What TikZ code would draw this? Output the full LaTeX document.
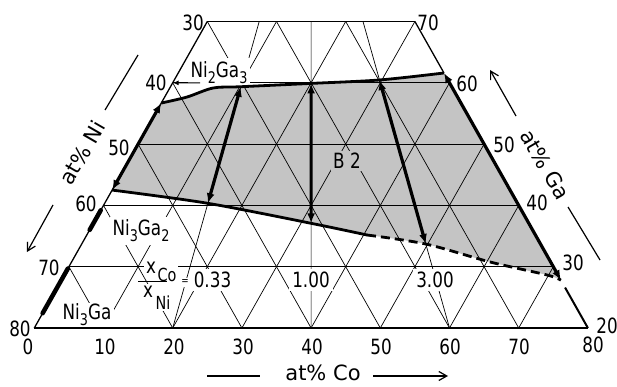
\documentclass[tikz,border=0pt]{standalone}
\usepackage{fontspec}
\setmainfont{DejaVu Sans}[FakeStretch=0.8]
\newfontfamily\axfont{DejaVu Sans}
\usetikzlibrary{arrows.meta}
\definecolor{shadegray}{gray}{0.77}
\newcommand{\sbs}[1]{\raisebox{-6pt}{\fontsize{16}{16}\selectfont #1}}
\begin{document}
\begin{tikzpicture}[x=1pt,y=-1pt,
  font=\fontsize{21}{21}\selectfont,
  gridline/.style={line width=0.7pt},
  edgeline/.style={line width=1.3pt},
  bound/.style={line width=2.8pt},
  tie/.style={line width=3.2pt,{Latex[length=10pt,width=8pt]}-{Latex[length=10pt,width=8pt]}},
  gap/.style={fill=white,inner xsep=3pt,inner ysep=3pt},
  tick/.style={inner sep=0pt},
  axis/.style={line width=1.2pt},
  axhead/.style={-{Straight Barb[length=8pt,width=9pt]}},
  phase/.style={line width=4.5pt,line cap=round},
  axtitle/.style={font=\axfont\fontsize{21}{21}\selectfont,inner sep=0pt},
]
\useasboundingbox (0,0) rectangle (617,387);
\begin{scope}[x={(6.92pt,0pt)},y={(3.46pt,6.13pt)},shift={(-34.9pt,-450.6pt)}]
  \coordinate (A) at (0,20);
  \coordinate (B) at (80,20);
  \coordinate (C) at (30,70);
  \coordinate (D) at (0,70);
  \coordinate (N40) at (0,60);
  \coordinate (l0) at (0,42.5);      \coordinate (u0) at (0,56.7);
  \coordinate (ua) at (3.23,57.68);  \coordinate (ub) at (6.25,59.15);
  \coordinate (l1) at (14.915,40.34);\coordinate (u1) at (10.16,59.36);
  \coordinate (l2) at (31.46,37.08); \coordinate (u2) at (20.05,59.9);
  \coordinate (lm) at (40.5,35.17);
  \coordinate (l3) at (49.725,33.7); \coordinate (u3) at (29.655,60.46);
  \coordinate (lc) at (60.47,30.77); \coordinate (ld) at (69.77,28.65);
  \coordinate (l4) at (72.2,27.8);   \coordinate (u4) at (38.4,61.6);
  \coordinate (r1) at (73.4,26.6);
  \coordinate (s1) at (0,36);   \coordinate (s2) at (0,39.2);
  \coordinate (s3) at (0,22.4); \coordinate (s4) at (0,29.7);
  \coordinate (q1b) at (20,20); \coordinate (q1t) at (7.5,70);
  \coordinate (q2b) at (40,20); \coordinate (q2t) at (15,70);
  \coordinate (q3b) at (60,20); \coordinate (q3t) at (22.5,70);
  % shaded B2 field
  \fill[shadegray] (l0) -- (u0)
     -- plot[smooth] coordinates {(u0) (ua) (ub) (u1) (u2) (u3) (u4)}
     -- (l4)
     -- plot[smooth] coordinates {(l4) (ld) (lc) (l3) (lm)}
     -- plot[smooth] coordinates {(lm) (l2) (l1) (l0)} -- cycle;
  % grid
  \foreach \g in {30,40,50,60} \draw[gridline] (0,\g) -- ({100-\g},\g);
  \foreach \c/\g in {10/70,20/70,30/70,40/60,50/50,60/40,70/30}
     \draw[gridline] (\c,20) -- (\c,\g);
  \foreach \a/\b/\g in {70/20/70,60/10/70,50/0/70,40/0/60,30/0/50,20/0/40,10/0/30}
     \draw[gridline] (\a,20) -- (\b,\g);
  % ratio lines
  \draw[gridline] (q1b) -- (q1t);
  \draw[gridline] (q2b) -- (q2t);
  \draw[gridline] (q3b) -- (q3t);
\end{scope}

% labels that interrupt the grid
\node[gap,inner ysep=4pt] (ni2ga3) at (219,73) {Ni\sbs{2}Ga\sbs{3}};
\node[gap] (ni3ga2) at (141,231) {Ni\sbs{3}Ga\sbs{2}};
\node[gap,inner ysep=1pt] (ni3ga) at (87,315) {Ni\sbs{3}Ga};
\node[gap,inner sep=2pt] (xn) at (151,267.5) {x};
\node[gap,inner sep=2pt,font=\fontsize{18}{18}\selectfont] (co) at (167,275) {Co};
\node[gap,inner sep=2pt] (xd) at (148,292) {x};
\node[gap,inner sep=2pt,font=\fontsize{18}{18}\selectfont] (ni) at (163,302.5) {Ni};
\node[gap,inner sep=2pt,font=\fontsize{11}{11}\selectfont] (eq) at (185,282.5) {=};
\node[gap,inner sep=3pt] (r033) at (212.5,280) {0.33};
\node[gap,inner sep=3pt] (r100) at (311,280) {1.00};
\node[gap,inner sep=3pt] (r300) at (435,280) {3.00};
\node[fill=shadegray,inner sep=2pt] (b2) at (347,161) {B~2};
\coordinate (fb1) at (138,281.5); \coordinate (fb2) at (167,281.5);
\draw[line width=1.3pt] (fb1) -- (fb2);

% outer edges
\draw[edgeline] (A) -- (B);
\draw[edgeline] (D) -- (C);
\draw[edgeline] (A) -- (D);
\draw[edgeline] (C) -- (u4);
\draw[line width=2pt] (r1) -- (B);

% B2 boundaries
\draw[bound] plot[smooth] coordinates {(u0) (ua) (ub) (u1) (u2) (u3) (u4)};
\draw[bound] plot[smooth] coordinates {(l0) (l1) (l2) (lm)};
\draw[bound,dash pattern=on 9pt off 5pt] plot[smooth] coordinates {(lm) (l3) (lc) (ld) (l4)};

% tie lines
\draw[tie] (l0) -- (u0);
\draw[tie] (l1) -- (u1);
\draw[tie] (l2) -- (u2);
\draw[tie] (l3) -- (u3);
\draw[tie] (l4) -- (u4);

% phase segments on the Ni-Ga side
\draw[phase] (s1) -- (s2);
\draw[phase] (s3) -- (s4);
\coordinate (ldr) at (200,83);
\draw[line width=1pt,-{Latex[length=6pt,width=5pt]}] (ldr) -- (N40);

% tick labels
\node[tick] (tl30) at (193,23) {30};
\node[tick] (tl40) at (156,83) {40};
\node[tick] (tl50) at (119,148) {50};
\node[tick] (tl60) at (86,204) {60};
\node[tick] (tl70) at (49,268) {70};
\node[tick] (tl80) at (20,329) {80};
\node[tick] (tb0) at (28,347) {0};
\node[tick] (tb10) at (105,347) {10};
\node[tick] (tb20) at (174,347) {20};
\node[tick] (tb30) at (243,347) {30};
\node[tick] (tb40) at (312,347) {40};
\node[tick] (tb50) at (381,347) {50};
\node[tick] (tb60) at (450,347) {60};
\node[tick] (tb70) at (519,347) {70};
\node[tick] (tb80) at (593,345) {80};
\node[tick] (tr70) at (428,23) {70};
\node[tick] (tr60) at (467,84) {60};
\node[tick] (tr50) at (504,145) {50};
\node[tick] (tr40) at (537,203) {40};
\node[tick] (tr30) at (573,263) {30};
\node[tick] (tr20) at (607,326) {20};

% axis titles
\node[axtitle,rotate=60] (atni) at (82,153) {at\% Ni};
\node[axtitle,rotate=-60] (atga) at (545,165) {at\% Ga};
\node[axtitle] (atco) at (323,373) {at\% Co};
\coordinate (nia) at (138,55); \coordinate (nib) at (105,110);
\coordinate (nic) at (53,205); \coordinate (nid) at (27,252);
\draw[axis] (nia) -- (nib);
\draw[axis,axhead] (nic) -- (nid);
\coordinate (gaa) at (516,116); \coordinate (gab) at (490,70);
\coordinate (gac) at (568,207); \coordinate (gad) at (600,260);
\draw[axis,axhead] (gaa) -- (gab);
\draw[axis] (gac) -- (gad);
\coordinate (coa) at (207,376); \coordinate (cob) at (260,376);
\coordinate (coc) at (373,376); \coordinate (cod) at (448,376);
\draw[axis] (coa) -- (cob);
\draw[axis,axhead] (coc) -- (cod);
\end{tikzpicture}
\end{document}
